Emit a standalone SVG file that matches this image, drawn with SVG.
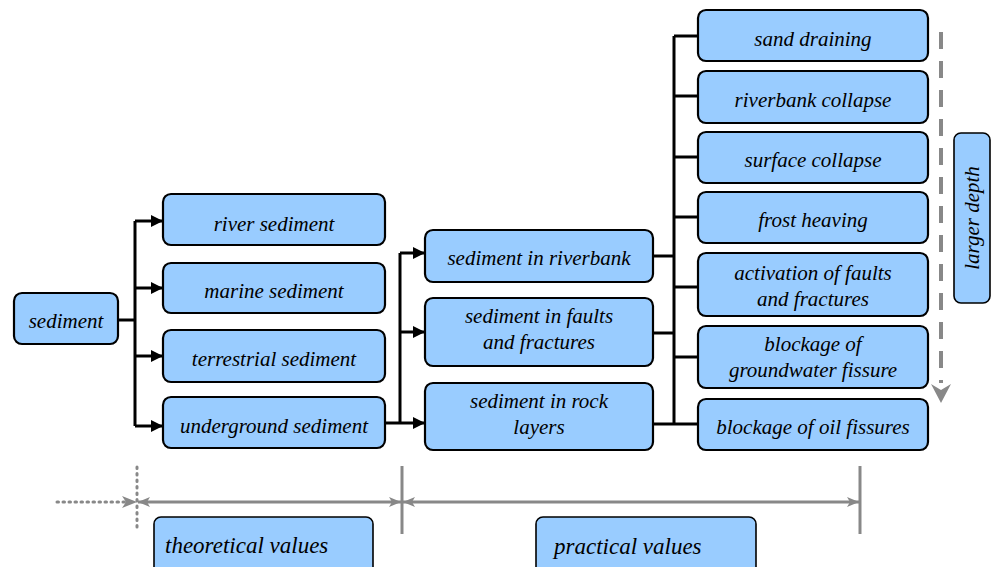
<svg xmlns="http://www.w3.org/2000/svg" width="992" height="567" viewBox="0 0 992 567">
<style>
.box{fill:#99ccff;stroke:#000;stroke-width:2.2}
.lbox{fill:#99ccff;stroke:#000;stroke-width:1.6}
.con{fill:none;stroke:#000;stroke-width:3}
.gray{fill:none;stroke:#888;stroke-width:3}
</style>
<defs>
<marker id="ah" viewBox="0 0 12 12" refX="12" refY="6" markerWidth="12" markerHeight="12" markerUnits="userSpaceOnUse" orient="auto">
<path d="M0,0 L12,6 L0,12 Z" fill="#000"/>
</marker>
<marker id="gh" viewBox="0 0 12 12" refX="12" refY="6" markerWidth="12" markerHeight="12" markerUnits="userSpaceOnUse" orient="auto-start-reverse">
<path d="M0,1 L12,6 L0,11 L3,6 Z" fill="#888"/>
</marker>
</defs>
<rect x="0" y="0" width="992" height="567" fill="#fff"/>

<g id="connectors">
<path class="con" d="M118,320 H135"/>
<path class="con" d="M135,221 V426"/>
<path class="con" d="M135,221 H163" marker-end="url(#ah)"/>
<path class="con" d="M135,288 H163" marker-end="url(#ah)"/>
<path class="con" d="M135,356 H163" marker-end="url(#ah)"/>
<path class="con" d="M135,426 H163" marker-end="url(#ah)"/>
<path class="con" d="M385,423 H400"/>
<path class="con" d="M400,253 V423"/>
<path class="con" d="M400,253 H425" marker-end="url(#ah)"/>
<path class="con" d="M400,332 H425" marker-end="url(#ah)"/>
<path class="con" d="M400,423 H425" marker-end="url(#ah)"/>
<path class="con" d="M653,256 H674"/>
<path class="con" d="M653,333 H674"/>
<path class="con" d="M653,424 H674"/>
<path class="con" d="M674,36 V424"/>
<path class="con" d="M674,36 H698"/>
<path class="con" d="M674,96 H698"/>
<path class="con" d="M674,157 H698"/>
<path class="con" d="M674,217 H698"/>
<path class="con" d="M674,287 H698"/>
<path class="con" d="M674,357 H698"/>
<path class="con" d="M674,424 H698"/>
<path d="M941,32 V383" fill="none" stroke="#888" stroke-width="4" stroke-dasharray="17 12"/>
<path d="M931,384 L941,403 L951,384 L941,390 Z" fill="#888"/>
<path d="M57,502 H134" fill="none" stroke="#888" stroke-width="3" stroke-dasharray="1.5 4.5" stroke-linecap="round"/>
<path d="M122,496 L137,502 L122,508 L126,502 Z" fill="#888"/>
<path d="M137,467 V530" fill="none" stroke="#888" stroke-width="3" stroke-dasharray="1.5 5" stroke-linecap="round"/>
<path class="gray" d="M138,502 H401" marker-start="url(#gh)" marker-end="url(#gh)"/>
<path class="gray" d="M403,502 H859" marker-start="url(#gh)" marker-end="url(#gh)"/>
<path class="gray" d="M402,466 V534"/>
<path class="gray" d="M860,466 V534"/>
</g>

<g id="n-sediment"><rect class="box" x="14" y="293" width="104" height="51" rx="8"/><text x="66" y="328" font-family="Times New Roman, Liberation Serif, serif" font-style="italic" font-size="21" text-anchor="middle">sediment</text></g>
<g id="n-river"><rect class="box" x="163" y="194" width="222" height="51" rx="8"/><text x="274" y="231" font-family="Times New Roman, Liberation Serif, serif" font-style="italic" font-size="21" text-anchor="middle">river sediment</text></g>
<g id="n-marine"><rect class="box" x="163" y="263" width="222" height="50" rx="8"/><text x="274" y="298" font-family="Times New Roman, Liberation Serif, serif" font-style="italic" font-size="21" text-anchor="middle">marine sediment</text></g>
<g id="n-terrestrial"><rect class="box" x="163" y="330" width="222" height="52" rx="8"/><text x="274" y="366" font-family="Times New Roman, Liberation Serif, serif" font-style="italic" font-size="21" text-anchor="middle">terrestrial sediment</text></g>
<g id="n-underground"><rect class="box" x="163" y="397" width="222" height="51" rx="8"/><text x="274" y="433" font-family="Times New Roman, Liberation Serif, serif" font-style="italic" font-size="21" text-anchor="middle">underground sediment</text></g>

<g id="n-riverbank"><rect class="box" x="425" y="230" width="228" height="52" rx="8"/><text x="539" y="265" font-family="Times New Roman, Liberation Serif, serif" font-style="italic" font-size="21" text-anchor="middle">sediment in riverbank</text></g>
<g id="n-faults"><rect class="box" x="425" y="298" width="228" height="68" rx="8"/><text x="539" y="323" font-family="Times New Roman, Liberation Serif, serif" font-style="italic" font-size="21" text-anchor="middle">sediment in faults</text><text x="539" y="349" font-family="Times New Roman, Liberation Serif, serif" font-style="italic" font-size="21" text-anchor="middle">and fractures</text></g>
<g id="n-rock"><rect class="box" x="425" y="383" width="228" height="67" rx="8"/><text x="539" y="408" font-family="Times New Roman, Liberation Serif, serif" font-style="italic" font-size="21" text-anchor="middle">sediment in rock</text><text x="539" y="434" font-family="Times New Roman, Liberation Serif, serif" font-style="italic" font-size="21" text-anchor="middle">layers</text></g>

<g id="n-sand"><rect class="box" x="698" y="10" width="230" height="51" rx="8"/><text x="813" y="46" font-family="Times New Roman, Liberation Serif, serif" font-style="italic" font-size="21" text-anchor="middle">sand draining</text></g>
<g id="n-rbcollapse"><rect class="box" x="698" y="71" width="230" height="52" rx="8"/><text x="813" y="107" font-family="Times New Roman, Liberation Serif, serif" font-style="italic" font-size="21" text-anchor="middle">riverbank collapse</text></g>
<g id="n-surface"><rect class="box" x="698" y="132" width="230" height="51" rx="8"/><text x="813" y="167" font-family="Times New Roman, Liberation Serif, serif" font-style="italic" font-size="21" text-anchor="middle">surface collapse</text></g>
<g id="n-frost"><rect class="box" x="698" y="192" width="230" height="51" rx="8"/><text x="813" y="227" font-family="Times New Roman, Liberation Serif, serif" font-style="italic" font-size="21" text-anchor="middle">frost heaving</text></g>
<g id="n-activation"><rect class="box" x="698" y="253" width="230" height="63" rx="8"/><text x="813" y="280" font-family="Times New Roman, Liberation Serif, serif" font-style="italic" font-size="21" text-anchor="middle">activation of faults</text><text x="813" y="306" font-family="Times New Roman, Liberation Serif, serif" font-style="italic" font-size="21" text-anchor="middle">and fractures</text></g>
<g id="n-groundwater"><rect class="box" x="698" y="326" width="230" height="62" rx="8"/><text x="813" y="351" font-family="Times New Roman, Liberation Serif, serif" font-style="italic" font-size="21" text-anchor="middle">blockage of</text><text x="813" y="377" font-family="Times New Roman, Liberation Serif, serif" font-style="italic" font-size="21" text-anchor="middle">groundwater fissure</text></g>
<g id="n-oil"><rect class="box" x="698" y="399" width="230" height="51" rx="8"/><text x="813" y="434" font-family="Times New Roman, Liberation Serif, serif" font-style="italic" font-size="21" text-anchor="middle">blockage of oil fissures</text></g>

<g id="n-depth"><rect class="lbox" x="954" y="133" width="36" height="170" rx="7"/><text transform="translate(979,218) rotate(-90)" font-family="Times New Roman, Liberation Serif, serif" font-style="italic" font-size="21" text-anchor="middle">larger depth</text></g>

<g id="n-theoretical"><rect class="lbox" x="154" y="517" width="219" height="60" rx="7"/><text x="165" y="553" font-family="Times New Roman, Liberation Serif, serif" font-style="italic" font-size="23">theoretical values</text></g>
<g id="n-practical"><rect class="lbox" x="536" y="517" width="220" height="60" rx="7"/><text x="554" y="554" font-family="Times New Roman, Liberation Serif, serif" font-style="italic" font-size="23">practical values</text></g>
</svg>
